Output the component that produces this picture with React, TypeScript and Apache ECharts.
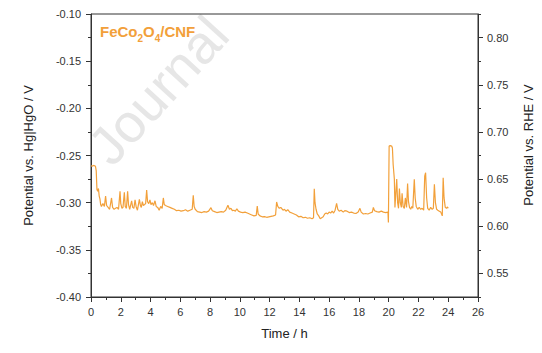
import React, { useEffect, useRef } from "react";
import * as echarts from "echarts";

const times = [
  0.0, 0.1, 0.2, 0.3, 0.35, 0.4, 0.45, 0.5, 0.55, 0.6, 0.65, 0.7, 0.8, 0.9, 0.98,
  1.05, 1.15, 1.25, 1.38, 1.45, 1.55, 1.65, 1.75, 1.85, 1.95, 2.0, 2.08, 2.15, 2.24,
  2.3, 2.38, 2.46, 2.52, 2.6, 2.73, 2.8, 2.88, 2.96, 3.03, 3.12, 3.25, 3.32, 3.38,
  3.45, 3.52, 3.6, 3.67, 3.74, 3.8, 3.88, 3.96, 4.03, 4.12, 4.2, 4.3, 4.38, 4.48,
  4.58, 4.68, 4.78, 4.86, 4.92, 5.0, 5.15, 5.3, 5.45, 5.6, 5.75, 5.9, 6.05, 6.2,
  6.35, 6.5, 6.65, 6.8, 6.87, 6.93, 7.0, 7.15, 7.3, 7.45, 7.6, 7.75, 7.9, 8.06,
  8.15, 8.3, 8.45, 8.6, 8.75, 8.9, 9.05, 9.2, 9.3, 9.4, 9.5, 9.6, 9.7, 9.8, 9.9,
  10.05, 10.2, 10.35, 10.5, 10.65, 10.8, 10.95, 11.1, 11.17, 11.23, 11.35, 11.5,
  11.65, 11.8, 11.95, 12.1, 12.25, 12.4, 12.47, 12.55, 12.65, 12.75, 12.9, 13.0,
  13.1, 13.22, 13.35, 13.5, 13.65, 13.8, 13.95, 14.1, 14.25, 14.4, 14.55, 14.7,
  14.85, 14.95, 15.0, 15.05, 15.12, 15.2, 15.3, 15.4, 15.5, 15.6, 15.7, 15.8, 15.9,
  16.0, 16.1, 16.2, 16.3, 16.4, 16.5, 16.58, 16.68, 16.8, 16.95, 17.05, 17.2, 17.35,
  17.5, 17.65, 17.8, 17.95, 18.07, 18.15, 18.3, 18.45, 18.6, 18.75, 18.9, 18.97,
  19.05, 19.2, 19.35, 19.5, 19.65, 19.8, 19.95, 19.98, 20.03, 20.1, 20.2, 20.25,
  20.3, 20.38, 20.42, 20.48, 20.54, 20.6, 20.66, 20.72, 20.78, 20.85, 20.9, 20.97,
  21.05, 21.12, 21.2, 21.27, 21.33, 21.4, 21.48, 21.55, 21.62, 21.72, 21.78, 21.85,
  21.95, 22.05, 22.15, 22.25, 22.35, 22.42, 22.48, 22.55, 22.62, 22.72, 22.82, 22.92,
  23.0, 23.07, 23.14, 23.22, 23.3, 23.4, 23.5, 23.6, 23.66, 23.72, 23.8, 23.88,
  23.95, 24.0,
];

const potentials = [
  -0.261, -0.2612, -0.2605, -0.2615, -0.266, -0.286, -0.288, -0.285, -0.293, -0.296,
  -0.302, -0.304, -0.301, -0.304, -0.293,
  -0.303, -0.305, -0.307, -0.295, -0.305, -0.307, -0.306, -0.305, -0.307, -0.288,
  -0.301, -0.306, -0.305, -0.289,
  -0.304, -0.306, -0.288, -0.302, -0.307, -0.298, -0.305, -0.306, -0.297, -0.304,
  -0.308, -0.2965, -0.303, -0.305,
  -0.299, -0.303, -0.302, -0.301, -0.2866, -0.299, -0.301, -0.297, -0.302, -0.3,
  -0.303, -0.298, -0.304, -0.305,
  -0.308, -0.304, -0.306, -0.295, -0.302, -0.303, -0.304, -0.305, -0.306, -0.307,
  -0.3085, -0.308, -0.309, -0.3085,
  -0.3075, -0.309, -0.308, -0.307, -0.2922, -0.304, -0.307, -0.3095, -0.31, -0.3105,
  -0.3095, -0.31, -0.309, -0.3053,
  -0.3085, -0.3095, -0.3105, -0.31, -0.3095, -0.31, -0.308, -0.3028, -0.307, -0.306,
  -0.3085, -0.308, -0.309, -0.3065, -0.309,
  -0.31, -0.3105, -0.31, -0.311, -0.312, -0.313, -0.314, -0.3135, -0.3035, -0.312,
  -0.314, -0.315,
  -0.3148, -0.3155, -0.315, -0.3145, -0.314, -0.313, -0.2993, -0.304, -0.306,
  -0.305, -0.308, -0.307,
  -0.309, -0.3075, -0.31, -0.311, -0.312, -0.313, -0.315, -0.3145, -0.316, -0.3155,
  -0.3165, -0.316,
  -0.317, -0.316, -0.2852, -0.3, -0.307, -0.312, -0.314, -0.317, -0.316, -0.315,
  -0.312, -0.311, -0.312,
  -0.31, -0.311, -0.309, -0.311, -0.308, -0.3007, -0.307, -0.309, -0.308, -0.31,
  -0.3085, -0.309, -0.3105,
  -0.31, -0.311, -0.3115, -0.31, -0.306, -0.31, -0.312, -0.3115, -0.312, -0.311,
  -0.31, -0.305,
  -0.3085, -0.3095, -0.31, -0.309, -0.31, -0.3105, -0.31, -0.321, -0.24, -0.2395,
  -0.24, -0.242,
  -0.2595, -0.275, -0.305, -0.29, -0.275, -0.3, -0.306, -0.285, -0.3, -0.305,
  -0.29, -0.304,
  -0.306, -0.295, -0.305, -0.2796, -0.299, -0.305, -0.307, -0.304, -0.306, -0.2753,
  -0.295, -0.304,
  -0.307, -0.305, -0.307, -0.306, -0.308, -0.272, -0.2683, -0.295, -0.306, -0.308,
  -0.305, -0.307,
  -0.306, -0.2806, -0.3, -0.307, -0.308, -0.309, -0.31, -0.314, -0.2736, -0.295,
  -0.305, -0.306,
  -0.3045, -0.306,
];

const xTicks = { min: 0, max: 26, interval: 2 };
const leftTicks = { min: -0.4, max: -0.1, interval: 0.05 };
const rheOffset = 0.925;
const rightMajorTicks = [0.55, 0.6, 0.65, 0.7, 0.75, 0.8];

const FONT = "'Liberation Sans', Arial, sans-serif";
const AXIS = "#333333";
const ORANGE = "#F2A03A";

export default function App() {
  const ref = useRef<HTMLDivElement>(null);

  useEffect(() => {
    if (!ref.current) return;
    const chart = echarts.init(ref.current, undefined, { renderer: "svg" });
    const data = times.map((t, i) => [t, potentials[i]]);
    const rMin = leftTicks.min + rheOffset;
    const rMax = leftTicks.max + rheOffset;

    chart.setOption({
      animation: false,
      textStyle: { fontFamily: FONT },
      grid: {
        left: 91,
        right: 64,
        top: 14,
        bottom: 56,
        show: true,
        borderColor: AXIS,
        borderWidth: 1,
      },
      xAxis: {
        type: "value",
        min: xTicks.min,
        max: xTicks.max,
        interval: xTicks.interval,
        name: "Time / h",
        nameLocation: "middle",
        nameGap: 30,
        nameTextStyle: { fontSize: 13, color: "#222", fontFamily: FONT },
        axisLine: { lineStyle: { color: AXIS } },
        axisTick: { show: true, length: 5, lineStyle: { color: AXIS } },
        minorTick: { show: true, splitNumber: 2, length: 3, lineStyle: { color: AXIS } },
        axisLabel: { fontSize: 11, color: "#333", margin: 9, fontFamily: FONT },
        splitLine: { show: false },
      },
      yAxis: [
        {
          type: "value",
          min: leftTicks.min,
          max: leftTicks.max,
          interval: leftTicks.interval,
          name: "Potential vs. Hg|HgO / V",
          nameLocation: "middle",
          nameGap: 56,
          nameRotate: 90,
          nameTextStyle: { fontSize: 13, color: "#222", fontFamily: FONT },
          axisLine: { show: true, lineStyle: { color: AXIS } },
          axisTick: { show: true, length: 5, lineStyle: { color: AXIS } },
          minorTick: { show: true, splitNumber: 2, length: 3, lineStyle: { color: AXIS } },
          axisLabel: {
            fontSize: 11,
            color: "#333",
            margin: 10,
            fontFamily: FONT,
            formatter: (v: number) => v.toFixed(2),
          },
          splitLine: { show: false },
        },
        {
          type: "value",
          position: "right",
          min: rMin,
          max: rMax,
          interval: 0.025,
          axisLine: { show: true, lineStyle: { color: AXIS } },
          axisTick: { show: true, length: 3, lineStyle: { color: AXIS } },
          axisLabel: { show: false },
          splitLine: { show: false },
        },
        {
          type: "value",
          position: "right",
          min: rMin,
          max: rMax,
          interval: 0.025,
          axisLine: { show: false },
          axisTick: {
            show: true,
            length: 5,
            customValues: rightMajorTicks,
            lineStyle: { color: AXIS },
          },
          axisLabel: {
            show: true,
            customValues: rightMajorTicks,
            fontSize: 11,
            color: "#333",
            margin: 9,
            fontFamily: FONT,
            formatter: (v: number) => v.toFixed(2),
          },
          splitLine: { show: false },
        },
      ],
      graphic: [
        {
          type: "text",
          z: -10,
          x: 158,
          y: 90,
          rotation: 0.83,
          silent: true,
          style: {
            text: "Journal",
            fontSize: 54,
            fontFamily: FONT,
            fill: "#e6e6e6",
            align: "center",
            verticalAlign: "middle",
          },
        },
        {
          type: "text",
          x: 100,
          y: 21,
          z: 10,
          style: {
            text: "{a|FeCo}{s|2}{a|O}{s|4}{a|/CNF}",
            rich: {
              a: { fontSize: 15, fontWeight: "bold", fill: ORANGE, fontFamily: FONT, lineHeight: 18, verticalAlign: "bottom" },
              s: { fontSize: 10, fontWeight: "bold", fill: ORANGE, fontFamily: FONT, lineHeight: 18, verticalAlign: "bottom", padding: [0, 0, -4, 0] },
            },
          },
        },
        {
          type: "text",
          x: 528,
          y: 145,
          rotation: Math.PI / 2,
          style: {
            text: "Potential vs. RHE / V",
            fontSize: 13,
            fontFamily: FONT,
            fill: "#222",
            align: "center",
            verticalAlign: "middle",
          },
        },
      ],
      series: [
        {
          type: "line",
          yAxisIndex: 0,
          data,
          showSymbol: false,
          symbol: "none",
          lineStyle: { color: ORANGE, width: 1.2 },
          z: 5,
        },
      ],
    });
    return () => chart.dispose();
  }, []);

  return <div ref={ref} style={{ width: 542, height: 353, position: "absolute", left: 0, top: 0 }} />;
}
